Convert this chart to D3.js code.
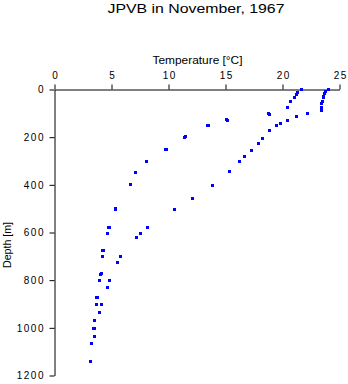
<!DOCTYPE html>
<html>
<head>
<meta charset="utf-8">
<script src="https://cdn.jsdelivr.net/npm/d3@7"></script>
<style>
  html, body { margin: 0; padding: 0; background: #fff; }
  svg { display: block; }
  text { font-family: "Liberation Sans", Arial, Helvetica, sans-serif; fill: #000; }
</style>
</head>
<body>
<script>
// ---- Data (temperature °C, depth m) ----
const titleText = "JPVB in November, 1967";
const xLabel = "Temperature [\u00B0C]";
const yLabel = "Depth [m]";
const xTicks = [0, 5, 10, 15, 20, 25];
const yTicks = [0, 200, 400, 600, 800, 1000, 1200];

const temperature = [
  // warm near-surface cast
  24.0, 23.8, 23.7, 23.63, 23.57, 23.48, 23.45, 23.45, 23.45,
  // middle cast
  21.7, 21.3, 21.2, 21.05, 20.7, 20.4, 22.2, 21.2, 18.75, 18.85, 20.4, 19.8, 19.45, 18.9,
  18.25, 17.9, 17.3, 16.7, 16.2, 15.35, 13.9, 12.1,
  // deep cast
  15.1, 15.2, 13.4, 13.5, 11.4, 11.5, 9.74, 9.8, 8.1, 7.1, 6.64, 6.7, 5.35, 5.35, 10.5,
  4.77, 4.85, 8.16, 4.62, 7.54, 7.19, 4.25, 4.3, 4.21, 5.79, 5.53, 4.04, 4.1, 3.95, 4.82,
  4.65, 3.72, 3.8, 3.68, 4.12, 3.95, 3.5, 3.45, 3.55, 3.5, 3.25, 3.16
];
const depth = [
  0, 10, 18, 28, 35, 52, 60, 77, 87,
  0, 12, 21, 32, 52, 77, 102, 114, 102, 104, 128, 141, 153, 170,
  204, 225, 254, 283, 301, 342, 401, 458,
  127, 129, 153, 151, 201, 199, 252, 250, 301, 348, 399, 397, 502, 498, 503,
  579, 580, 577, 604, 604, 621, 676, 674, 701, 701, 727, 776, 774, 801, 801,
  829, 871, 872, 902, 902, 935, 970, 1003, 1003, 1038, 1067, 1143
];

// ---- Layout ----
const W = 348, H = 384;
const svg = d3.select("body").append("svg").attr("width", W).attr("height", H);

const x = d3.scaleLinear().domain([0, 25]).range([54.5, 339.5]);
const y = d3.scaleLinear().domain([0, 1200]).range([89.5, 375.5]);

// Title
svg.append("text")
  .attr("x", 196).attr("y", 12.7)
  .attr("text-anchor", "middle")
  .attr("font-size", "12.5px")
  .attr("textLength", 177)
  .attr("lengthAdjust", "spacingAndGlyphs")
  .text(titleText);

// X axis (top)
const gx = svg.append("g")
  .attr("transform", `translate(0,${y(0)})`)
  .call(d3.axisTop(x).tickValues(xTicks).tickSize(5).tickSizeOuter(0).tickPadding(6)
        .tickFormat(d3.format("d")));
// Y axis (left)
const gy = svg.append("g")
  .attr("transform", `translate(${x(0)},0)`)
  .call(d3.axisLeft(y).tickValues(yTicks).tickSize(5).tickSizeOuter(0).tickPadding(4.5)
        .tickFormat(d3.format("d")));

[gx, gy].forEach(g => {
  g.selectAll("path.domain").attr("stroke", "#000").attr("stroke-width", 1);
  g.selectAll(".tick line").attr("stroke", "#000").attr("stroke-width", 1);
  g.selectAll(".tick text")
    .attr("font-family", "\"Liberation Sans\", Arial, Helvetica, sans-serif")
    .attr("font-size", "10px")
    .attr("letter-spacing", "1.5px")
    .attr("fill", "#000");
});
gx.selectAll(".tick text").attr("dx", "0.75px");

// Axis titles
svg.append("text")
  .attr("x", 197.5).attr("y", 63.8)
  .attr("text-anchor", "middle")
  .attr("font-size", "11.5px")
  .attr("textLength", 90)
  .attr("lengthAdjust", "spacingAndGlyphs")
  .text(xLabel);

svg.append("text")
  .attr("transform", "translate(11,245) rotate(-90)")
  .attr("text-anchor", "middle")
  .attr("font-size", "11.5px")
  .attr("textLength", 46)
  .attr("lengthAdjust", "spacingAndGlyphs")
  .text(yLabel);

// Points
const pts = temperature.map((t, i) => ({ t, d: depth[i] }));
const s = 3;
svg.append("g").selectAll("rect").data(pts).join("rect")
  .attr("x", p => Math.round(x(p.t) - s / 2))
  .attr("y", p => Math.round(y(p.d) - s / 2))
  .attr("width", s).attr("height", s)
  .attr("fill", "#0000ff");
</script>
</body>
</html>
